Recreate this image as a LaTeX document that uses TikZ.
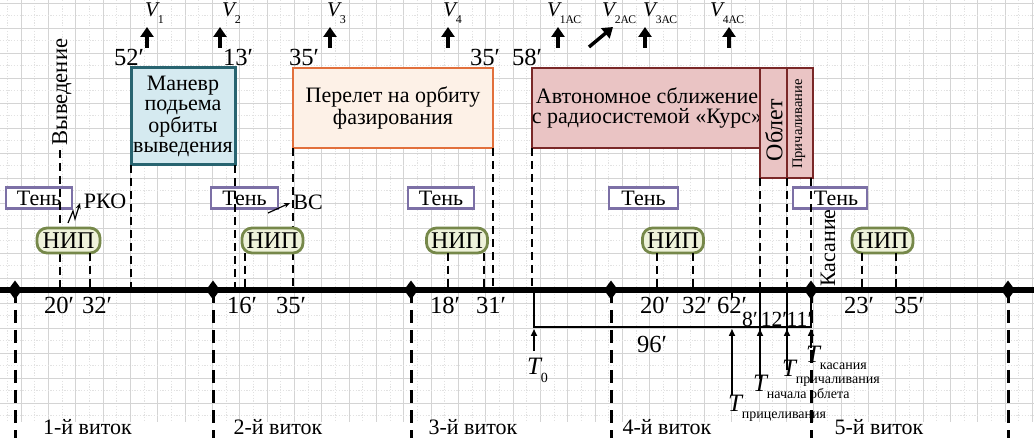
\documentclass[tikz,border=0pt]{standalone}
\usepackage{fontspec}
\setmainfont{Liberation Serif}
\usetikzlibrary{arrows.meta,shapes.geometric}
\definecolor{manfill}{RGB}{213,234,240}
\definecolor{mandraw}{RGB}{40,100,112}
\definecolor{perfill}{RGB}{253,241,231}
\definecolor{perdraw}{RGB}{226,112,60}
\definecolor{avtfill}{RGB}{234,196,196}
\definecolor{avtdraw}{RGB}{122,40,40}
\definecolor{nipfill}{RGB}{238,242,218}
\definecolor{nipdraw}{RGB}{118,136,74}
\definecolor{tendraw}{RGB}{124,112,166}
\definecolor{gridc}{RGB}{212,212,212}
\definecolor{gridd}{RGB}{226,226,226}
\begin{document}
\begin{tikzpicture}[x=0.5pt,y=-0.5pt,
  every node/.style={inner sep=0pt,outer sep=0pt},
  txt/.style={font=\fontsize{11}{10}\selectfont},
  mtxt/.style={font=\fontsize{12.3}{12}\selectfont},
  stxt/.style={font=\fontsize{10.8}{11}\selectfont},
  gridmaj/.style={draw=gridc,line width=0.35pt},
  gridmin/.style={draw=gridd,line width=0.35pt,dash pattern=on 0.6pt off 0.8pt},
  tenbox/.style={draw=tendraw,fill=white,line width=1.1pt,minimum width=33pt,minimum height=10.5pt,txt},
  nipbox/.style={draw=nipdraw,fill=nipfill,line width=1.4pt,rounded corners=5pt,minimum width=30.5pt,minimum height=12.5pt,font=\fontsize{12}{12}\selectfont},
  bigbox/.style={line width=1.2pt,align=center,font=\fontsize{11}{10}\selectfont},
  updash/.style={line width=1.1pt,dash pattern=on 4pt off 2.5pt},
  orbdash/.style={line width=1.5pt,dash pattern=on 6.5pt off 3.5pt},
  varrow/.style={line width=1.7pt,-{Triangle[length=5pt,width=6.5pt]}},
  tarrow/.style={line width=0.8pt,-{Triangle[length=3.5pt,width=3pt]}},
  thinline/.style={line width=0.9pt},
  dmd/.style={diamond,fill=black,minimum width=7pt,minimum height=9.5pt},
  vlab/.style={anchor=base west,font=\fontsize{10.5}{11}\selectfont},
  tlab/.style={anchor=base west,font=\fontsize{12.5}{13}\selectfont}
]
\useasboundingbox (0,0) rectangle (1034,438);
\fill[white] (0,0) rectangle (1034,438);
% grid
\begin{scope}
\clip (0,0) rectangle (1034,422);
\foreach \i in {0,...,37}{
  \draw[gridmaj] ({21+27.333*\i},0) -- ++(0,422);
  \draw[gridmin] ({7.33+27.333*\i},0) -- ++(0,422);
}
\foreach \j in {0,...,17}{
  \draw[gridmaj] (0,{3.3+25*\j}) -- ++(1034,0);
  \draw[gridmin] (0,{15.8+25*\j}) -- ++(1034,0);
}
\end{scope}
% reference coordinates
\coordinate (axL) at (0,290);
\coordinate (axR) at (1034,290);
\coordinate (bot) at (0,438);
% shadow boxes
\node[tenbox] (ten1) at (39,198) {Тень};
\node[tenbox,minimum width=33.5pt] (ten2) at (244.5,198) {Тень};
\node[tenbox] (ten3) at (441,198) {Тень};
\node[tenbox,minimum width=34.5pt] (ten4) at (643.5,198) {Тень};
\node[tenbox,minimum width=37pt] (ten5) at (830,198) {\hspace*{6pt}Тень};
% main boxes
\node[bigbox,draw=mandraw,fill=manfill,line width=1.5pt,minimum width=52pt,minimum height=48.5pt] (man) at (183,116.5) {Маневр\\подьема\\орбиты\\выведения};
\node[bigbox,draw=perdraw,fill=perfill,minimum width=100pt,minimum height=40pt] (per) at (393,108) {Перелет на орбиту\\фазирования};
\node[bigbox,draw=avtdraw,fill=avtfill,line width=1.1pt,minimum width=113pt,minimum height=40pt] (avt) at (647,108) {Автономное сближение\\с радиосистемой «Курс»};
\node[draw=avtdraw,fill=avtfill,line width=1.1pt,minimum width=13.5pt,minimum height=55pt] (obl) at (773.5,123) {};
\node[draw=avtdraw,fill=avtfill,line width=1.1pt,minimum width=13pt,minimum height=55pt] (pri) at (800,123) {};
\node[rotate=90,font=\fontsize{12}{12}\selectfont] (oblt) at (774,130) {Облет};
\node[rotate=90,font=\fontsize{7.3}{8}\selectfont] (prit) at (799,124) {Причаливание};
\node[rotate=90,font=\fontsize{11.3}{12}\selectfont] (vyv) at (62,92) {Выведение};
\node[rotate=90,txt] (kas) at (828,248) {Касание};
% dashed lines from boxes to axis
\coordinate (vyvb) at (60,150);
\coordinate (kasl) at (811,178);
\draw[updash] (vyvb) -- (vyvb |- axL);
\draw[updash] (man.south west) -- (man.south west |- axL);
\draw[updash] (man.south east) -- (man.south east |- axL);
\draw[updash] (per.south west) -- (per.south west |- axL);
\draw[updash] (per.south east) -- (per.south east |- axL);
\draw[updash] (avt.south west) -- (avt.south west |- axL);
\draw[updash] (obl.south west) -- (obl.south west |- axL);
\draw[updash] (pri.south west) -- (pri.south west |- axL);
\draw[updash] (kasl) -- (kasl |- axL);
% NIP
\node[nipbox,minimum width=31.5pt] (nip1) at (68.5,240.5) {НИП};
\node[nipbox] (nip2) at (272.5,240.5) {НИП};
\node[nipbox] (nip3) at (457,240.5) {НИП};
\node[nipbox] (nip4) at (673,240.5) {НИП};
\node[nipbox] (nip5) at (882.5,240.5) {НИП};
\foreach \x/\n in {90/1,245/2,448/3,484/3,657/4,693/4,862/5,896/5}{
  \coordinate (w) at (\x,290);
  \draw[updash] (w |- nip\n.south) -- (w);
}
% orbit boundaries
\foreach \x/\n in {15/1,213/2,411/3,611/4,811/5,1008/6}{
  \coordinate (o\n) at (\x,290);
  \draw[orbdash] (o\n) -- (o\n |- bot);
}
\draw[line width=2.6pt] (axL) -- (axR);
\foreach \n in {1,...,6}{ \node[dmd] (d\n) at (o\n) {}; }
% bracket below axis
\coordinate (b0) at (534,327);
\coordinate (b1) at (811,327);
\draw[thinline] (b0 |- axL) -- (b0) -- (b1) -- (b1 |- axL);
\coordinate (a732) at (732,290);
\draw[thinline] (a732) -- ++(0,8);
\coordinate (a760) at (760,290);
\coordinate (a787) at (787,290);
% T arrows
\coordinate (t0tail) at (534,351);   \coordinate (t0tip) at (534,329);
\coordinate (tprtail) at (732,395);  \coordinate (tprtip) at (732,329);
\coordinate (tnotail) at (760,379);  \coordinate (tnotip) at (760,329);
\coordinate (tpctail) at (787,370);  \coordinate (tpctip) at (787,329);
\coordinate (tkatail) at (811,348);  \coordinate (tkatip) at (811,329);
\draw[thinline] (a760) -- (tnotail);
\draw[thinline] (a787) -- (tpctail);
\draw[tarrow] (t0tail) -- (t0tip);
\draw[tarrow] (tprtail) -- (tprtip);
\draw[tarrow] (tnotail) -- (tnotip);
\draw[tarrow] (tpctail) -- (tpctip);
\draw[tarrow] (tkatail) -- (tkatip);
\node[tlab] (T0) at (527,375) {\itshape T\raisebox{-3.5pt}{\upshape\fontsize{7}{8}\selectfont 0}};
\node[tlab] (Tpr) at (728,411) {\itshape T\raisebox{-3.5pt}{\upshape\fontsize{7}{8}\selectfont прицеливания}};
\node[tlab] (Tno) at (753,392) {\itshape T\raisebox{-3.5pt}{\upshape\fontsize{7}{8}\selectfont начала облета}};
\node[tlab] (Tpc) at (782,377) {\itshape T\raisebox{-3.5pt}{\upshape\fontsize{7}{8}\selectfont причаливания}};
\node[tlab] (Tka) at (806,363) {\itshape T\raisebox{-3.5pt}{\upshape\fontsize{7}{8}\selectfont касания}};
% V impulses
\foreach \x/\n in {147/1,220/2,330/3,448/4,558/5,645/7,729/8}{
  \coordinate (vt\n) at (\x,48);
  \coordinate (vh\n) at (\x,27);
  \draw[varrow] (vt\n) -- (vh\n);
}
\coordinate (vt6) at (589,47);
\coordinate (vh6) at (613,27);
\draw[varrow] (vt6) -- (vh6);
\node[vlab] (V1) at (145,17) {\itshape V\raisebox{-3.5pt}{\upshape\fontsize{6}{6}\selectfont 1}};
\node[vlab] (V2) at (222,17) {\itshape V\raisebox{-3.5pt}{\upshape\fontsize{6}{6}\selectfont 2}};
\node[vlab] (V3) at (327,17) {\itshape V\raisebox{-3.5pt}{\upshape\fontsize{6}{6}\selectfont 3}};
\node[vlab] (V4) at (443,17) {\itshape V\raisebox{-3.5pt}{\upshape\fontsize{6}{6}\selectfont 4}};
\node[vlab] (V1a) at (547,17) {\itshape V\raisebox{-3.5pt}{\upshape\fontsize{5.8}{6}\selectfont 1АС}};
\node[vlab] (V2a) at (602,17) {\itshape V\raisebox{-3.5pt}{\upshape\fontsize{5.8}{6}\selectfont 2АС}};
\node[vlab] (V3a) at (643,17) {\itshape V\raisebox{-3.5pt}{\upshape\fontsize{5.8}{6}\selectfont 3АС}};
\node[vlab] (V4a) at (710,17) {\itshape V\raisebox{-3.5pt}{\upshape\fontsize{5.8}{6}\selectfont 4АС}};
% minute labels above
\node[mtxt] (m52) at (129,57) {52′};
\node[mtxt] (m13) at (238,57) {13′};
\node[mtxt] (m35a) at (304,57) {35′};
\node[mtxt] (m35b) at (485,57) {35′};
\node[mtxt] (m58) at (527,57) {58′};
% minute labels below
\foreach \x/\t/\n in {59/20′/1,97/32′/2,242/16′/3,291/35′/4,445/18′/5,491/31′/6,655/20′/7,697/32′/8,732/62′/9,859/23′/10,909/35′/11}{
  \node[mtxt] (lb\n) at (\x,305) {\t};
}
\node[stxt] (l8) at (750,319) {8′};
\node[stxt] (l12) at (774,319) {12′};
\node[stxt] (l11) at (799.5,319) {11′};
\node[mtxt] (l96) at (652,344) {96′};
% РКО and ВС
\node[txt] (rko) at (105,201) {РКО};
\node[txt] (vs) at (308,202) {ВС};
\coordinate (z1) at (68,223);
\coordinate (z2) at (73,211);
\coordinate (z3) at (75,219);
\coordinate (z4) at (80,203);
\draw[line width=0.6pt,-{Stealth[length=3pt,width=2.5pt]}] (z1) -- (z2) -- (z3) -- (z4);
\coordinate (vsa) at (268,213);
\coordinate (vsb) at (290,203);
\draw[line width=0.6pt,-{Stealth[length=3pt,width=2.5pt]}] (vsa) -- (vsb);
% orbit names
\node[txt] (vit1) at (87.5,427) {1-й виток};
\node[txt] (vit2) at (278,427) {2-й виток};
\node[txt] (vit3) at (473,427) {3-й виток};
\node[txt] (vit4) at (667,427) {4-й виток};
\node[txt] (vit5) at (879,427) {5-й виток};
\end{tikzpicture}
\end{document}
